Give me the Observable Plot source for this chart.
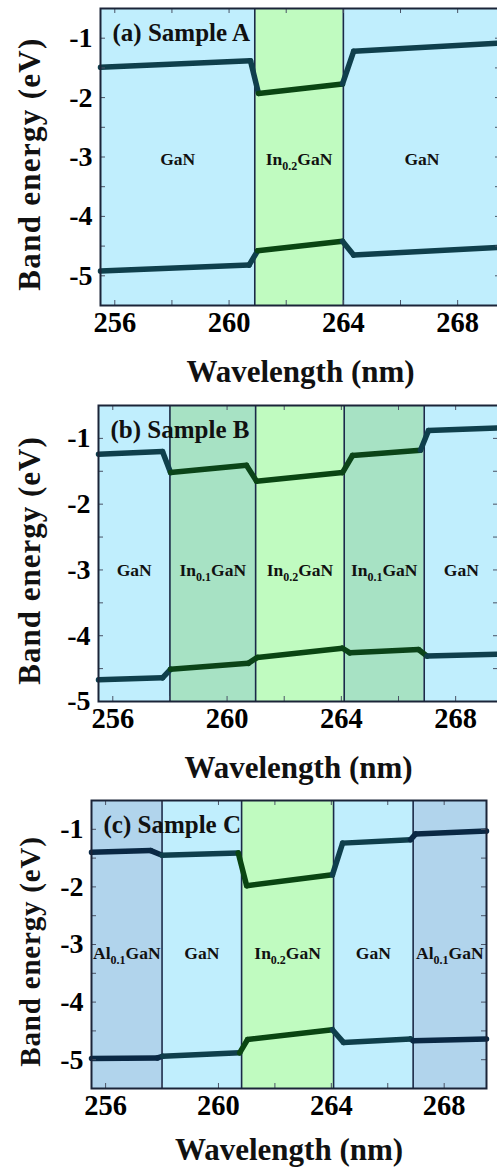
<!DOCTYPE html>
<html><head><meta charset="utf-8">
<script src="https://cdn.jsdelivr.net/npm/d3@7"></script>
<script src="https://cdn.jsdelivr.net/npm/@observablehq/plot@0.6"></script>
<style>
html,body{margin:0;padding:0;background:#fff;overflow:hidden;width:497px;height:1169px;}
#chart svg{display:block;}
</style></head><body><div id="chart"></div>
<script>
// ---- Panel (a) Sample A ----
const edgesA = [255.5, 260.9, 264.0, 269.5];
const layersA = ["GaN", "In0.2GaN", "GaN"];
const cbA_x = [255.5, 260.75, 261.03, 263.97, 264.36, 269.5];
const cbA_y = [-1.49, -1.38, -1.93, -1.77, -1.22, -1.08];
const vbA_x = [255.5, 260.7, 261.0, 263.97, 264.36, 269.5];
const vbA_y = [-4.92, -4.82, -4.58, -4.42, -4.65, -4.52];

// ---- Panel (b) Sample B ----
const edgesB = [255.5, 258.0, 261.0, 264.1, 266.9, 269.5];
const layersB = ["GaN", "In0.1GaN", "In0.2GaN", "In0.1GaN", "GaN"];
const cbB_x = [255.5, 257.74, 258.02, 260.68, 261.03, 264.04, 264.39, 266.77, 267.05, 269.5];
const cbB_y = [-1.24, -1.2, -1.52, -1.41, -1.65, -1.52, -1.26, -1.18, -0.88, -0.84];
const vbB_x = [255.5, 257.74, 258.02, 260.74, 261.06, 264.04, 264.3, 266.7, 267.0, 269.5];
const vbB_y = [-4.67, -4.64, -4.51, -4.42, -4.33, -4.19, -4.26, -4.21, -4.31, -4.28];

// ---- Panel (c) Sample C ----
const edgesC = [255.5, 258.0, 260.82, 264.08, 266.9, 269.5];
const layersC = ["Al0.1GaN", "GaN", "In0.2GaN", "GaN", "Al0.1GaN"];
const cbC_x = [255.5, 257.6, 258.0, 260.7, 261.0, 264.04, 264.4, 266.81, 266.99, 269.5];
const cbC_y = [-1.40, -1.37, -1.45, -1.41, -1.98, -1.79, -1.24, -1.18, -1.08, -1.03];
const vbC_x = [255.5, 257.84, 258.02, 260.75, 261.03, 264.04, 264.43, 266.81, 266.9, 269.5];
const vbC_y = [-4.98, -4.97, -4.94, -4.88, -4.65, -4.48, -4.70, -4.64, -4.67, -4.64];

// ---- shared axis values ----
const xDomain = [255.5, 269.5];
const xTickLabels = [256, 260, 264, 268];
const xTickMarks = [256, 258, 260, 262, 264, 266, 268];
const yTickLabels = [-1, -2, -3, -4, -5];
const yTickMarks = [-5, -4.5, -4, -3.5, -3, -2.5, -2, -1.5, -1];
const titles = ["(a) Sample A", "(b) Sample B", "(c) Sample C"];
const xLabel = "Wavelength (nm)";
const yLabel = "Band energy (eV)";

const layerFill = {"GaN": "#c0eefd", "In0.2GaN": "#c0fbc0", "In0.1GaN": "#a7e2c4", "Al0.1GaN": "#b1d4ec"};
const bandStroke = {"GaN": "#0f3f4c", "In0.2GaN": "#0a4512", "In0.1GaN": "#0b4418", "Al0.1GaN": "#0a2844"};

function layerTable(edges, layers) {
  return layers.map((name, i) => ({name, x1: edges[i], x2: edges[i + 1]}));
}
function segs(xs, ys, edges, layers, band) {
  const out = [];
  for (let i = 0; i < xs.length - 1; i++) {
    const mid = (xs[i] + xs[i + 1]) / 2;
    let k = 0;
    while (k < layers.length - 1 && mid >= edges[k + 1]) k++;
    const layer = layers[k];
    out.push({x: xs[i], y: ys[i], seg: band + i, layer});
    out.push({x: xs[i + 1], y: ys[i + 1], seg: band + i, layer});
  }
  return out;
}

function panel(cfg) {
  const {edges, layers, cb, vb, title, yDomain, height, mt, mb, ml, mr, labelDy, yLabelSize, yLabelSpacing, xLabelDy} = cfg;
  const innerH = height - mt - mb;
  const innerW = 497 - ml - mr;
  const table = layerTable(edges, layers);
  const bands = segs(cb[0], cb[1], edges, layers, "cb").concat(segs(vb[0], vb[1], edges, layers, "vb"));
  const fontFamily = "'Liberation Serif', 'Times New Roman', serif";
  const svg = Plot.plot({
    width: 497, height,
    marginTop: mt, marginBottom: mb, marginLeft: ml, marginRight: mr,
    x: {domain: xDomain},
    y: {domain: yDomain},
    color: {type: "identity"},
    style: {fontFamily, fontWeight: "bold", background: "white", overflow: "visible", color: "black"},
    marks: [
      Plot.rect(table, {x1: "x1", x2: "x2", fill: d => layerFill[d.name]}),
      Plot.ruleX(edges.slice(1, -1), {stroke: "#1a2a48", strokeWidth: 1.6}),
      Plot.line(bands, {x: "x", y: "y", z: "seg", stroke: d => bandStroke[d.layer], strokeWidth: 5.5, strokeLinecap: "round", strokeLinejoin: "round"}),
      Plot.tickX(xTickMarks, {x: d => d, insetTop: innerH - 5, stroke: "#4a5366", strokeWidth: 1}),
      Plot.tickX(xTickMarks, {x: d => d, insetBottom: innerH - 5, stroke: "#4a5366", strokeWidth: 1}),
      Plot.tickY(yTickMarks, {y: d => d, insetRight: innerW - 5, stroke: "#4a5366", strokeWidth: 1}),
      Plot.tickY(yTickMarks, {y: d => d, insetLeft: innerW - 5, stroke: "#4a5366", strokeWidth: 1}),
      Plot.frame({stroke: "#1b2438", strokeWidth: 2}),
      Plot.text(table, {x: d => (d.x1 + d.x2) / 2, frameAnchor: "middle", dy: labelDy, text: "name", fontSize: 17.5, fontWeight: "bold", fill: "#111"}),
      Plot.text([title], {text: d => d, frameAnchor: "top-left", dx: 12, dy: 24, textAnchor: "start", lineAnchor: "middle", fontSize: 25, fontWeight: "bold", fill: "#111"}),
      Plot.axisX({ticks: xTickLabels, tickSize: 0, tickPadding: 6, fontSize: 28.5, fontWeight: "bold", label: null, tickFormat: d => String(d)}),
      Plot.axisY({ticks: yTickLabels, tickSize: 0, tickPadding: 8, fontSize: 28, fontWeight: "bold", label: null, tickFormat: d => String(d)}),
      Plot.text([xLabel], {text: d => d, frameAnchor: "bottom", dy: xLabelDy, textAnchor: "middle", lineAnchor: "middle", fontSize: 31, fontWeight: "bold", fill: "#111"}),
      Plot.text([yLabel], {text: d => d, frameAnchor: "left", rotate: -90, dx: -(ml - 30), dy: 7, textAnchor: "middle", lineAnchor: "middle", fontSize: yLabelSize, fontWeight: "bold", fill: "#111"})
    ]
  });
  svg.querySelectorAll("text").forEach(t => {
    if (t.textContent === yLabel) t.style.letterSpacing = yLabelSpacing + "px";
    const m = t.textContent.match(/^(In|Al)(0\.\d)(GaN)$/);
    if (m) {
      const ns = "http://www.w3.org/2000/svg";
      t.textContent = "";
      const a = document.createElementNS(ns, "tspan"); a.textContent = m[1];
      const b = document.createElementNS(ns, "tspan"); b.textContent = m[2];
      b.setAttribute("font-size", "12"); b.setAttribute("dy", "5");
      const c = document.createElementNS(ns, "tspan"); c.textContent = m[3];
      c.setAttribute("dy", "-5");
      t.append(a, b, c);
    }
  });
  return svg;
}

const root = document.getElementById("chart");
root.append(panel({edges: edgesA, layers: layersA, cb: [cbA_x, cbA_y], vb: [vbA_x, vbA_y], title: titles[0],
  yDomain: [-5.5, -0.5], height: 395, mt: 8, mb: 90, ml: 100, mr: -3, labelDy: 2, yLabelSize: 31, yLabelSpacing: 1.3, xLabelDy: 67}));
root.append(panel({edges: edgesB, layers: layersB, cb: [cbB_x, cbB_y], vb: [vbB_x, vbB_y], title: titles[1],
  yDomain: [-5, -0.5], height: 395, mt: 10, mb: 89, ml: 98, mr: -1, labelDy: 17, yLabelSize: 31, yLabelSpacing: 1, xLabelDy: 67}));
root.append(panel({edges: edgesC, layers: layersC, cb: [cbC_x, cbC_y], vb: [vbC_x, vbC_y], title: titles[2],
  yDomain: [-5.5, -0.5], height: 379, mt: 10, mb: 81, ml: 91, mr: 11, labelDy: 9, yLabelSize: 29, yLabelSpacing: 0.8, xLabelDy: 62}));
</script></body></html>
